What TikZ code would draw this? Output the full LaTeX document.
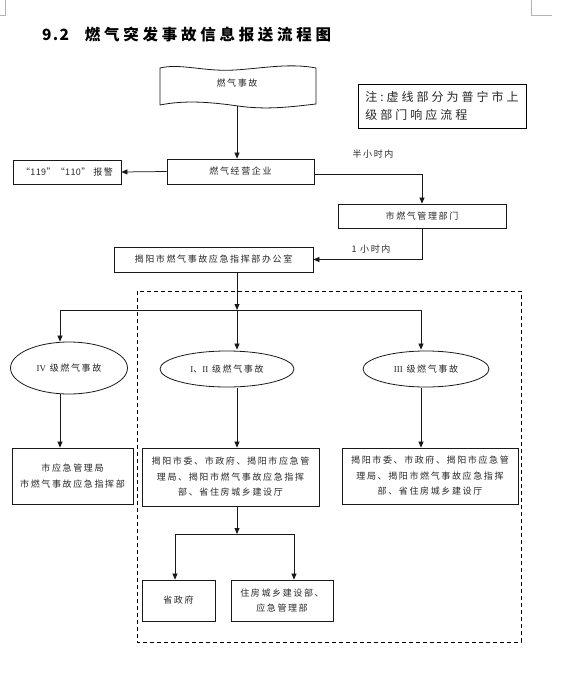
\documentclass[tikz,border=0pt]{standalone}
\usepackage{fontspec}
\usetikzlibrary{arrows.meta,shapes.geometric}
\newfontfamily\smf{Noto Sans CJK SC}[LetterSpace=18]
\newfontfamily\plainf{Noto Sans CJK SC}[LetterSpace=4]
\newfontfamily\ntf{Noto Sans CJK SC}[LetterSpace=25]
\newfontfamily\ttlf{Noto Sans CJK SC}[LetterSpace=24]
\newfontfamily\numf{Noto Sans CJK SC}[LetterSpace=8]
\newfontfamily\romf{Liberation Serif}
\tikzset{
  ln/.style={line width=0.75pt, draw=black!90},
  arr/.style={ln, -{Triangle[length=6pt,width=5pt]}},
  box/.style={draw=black!90, line width=0.8pt, rectangle, inner sep=0pt, align=center,
    font=\smf\fontsize{9}{15.5}\selectfont, text=black!85},
  oval/.style={draw=black!90, line width=0.8pt, ellipse, inner sep=0pt, align=center,
    font=\smf\fontsize{9}{12}\selectfont, text=black!85},
  lbl/.style={inner sep=0pt, font=\smf\fontsize{9}{12}\selectfont, text=black!85},
  cornermark/.style={draw=black!30, line width=0.6pt}
}
\begin{document}
\begin{tikzpicture}[x=1pt,y=-1pt]
\useasboundingbox (0,0) rectangle (576,682);
% page corner marks
\draw[cornermark] (0,15) -- (5,15) -- (5,0);
\draw[cornermark] (531,0) -- (531,15) -- (552,15);
% title
\node[anchor=west, inner sep=0pt, font=\fontsize{15.5}{15.5}\selectfont\bfseries] (title) at (42,35)
  {{\numf 9.2}\hspace{16pt}{\ttlf 燃气突发事故信息报送流程图}};
% note
\node[draw=black, line width=0.8pt, rectangle, inner sep=0pt, minimum width=168pt, minimum height=44pt,
  align=left, font=\ntf\fontsize{12}{18}\selectfont, text=black!85] (note) at (442,106)
  {注:虚线部分为普宁市上\\级部门响应流程};
% wave box
\draw[ln, line width=0.8pt] (160,68) .. controls (180,63) and (205,72) .. (235,70)
  .. controls (265,68) and (290,63) .. (316,68) -- (316,104)
  .. controls (290,107) and (266,110) .. (238,106)
  .. controls (210,102) and (185,100) .. (160,105) -- cycle;
\node[inner sep=0pt, minimum width=156pt, minimum height=46pt, font=\smf\fontsize{9}{12}\selectfont, text=black!85] (fire) at (237,83) {燃气事故};
% boxes
\node[box, minimum width=147pt, minimum height=25pt] (biz) at (240.5,171.5) {燃气经营企业};
\node[box, minimum width=108pt, minimum height=24pt] (alarm) at (67,172) {{\plainf “119”“110”}\hspace{3pt}报警};
\node[box, minimum width=168pt, minimum height=24pt] (city) at (422,216) {市燃气管理部门};
\node[box, minimum width=199pt, minimum height=25pt] (jy) at (213.5,259.5) {揭阳市燃气事故应急指挥部办公室};
\node[lbl] (half) at (373,154) {半小时内};
\node[lbl] (hour) at (371,249) {1 小时内};
% dashed region
\draw[line width=0.8pt, dash pattern=on 4pt off 3pt] (137,291) rectangle (521,642);
% ellipses
\node[oval, minimum width=117pt, minimum height=52pt] (e4) at (69,368) {{\romf IV} 级燃气事故};
\node[oval, minimum width=134pt, minimum height=36pt] (e12) at (227,369) {{\romf I}、{\romf II} 级燃气事故};
\node[oval, minimum width=126pt, minimum height=36pt] (e3) at (426,369) {{\romf III} 级燃气事故};
% level boxes
\node[box, minimum width=121pt, minimum height=56pt] (b4) at (72.5,476) {市应急管理局\\市燃气事故应急指挥部};
\node[box, minimum width=177pt, minimum height=58pt] (b12) at (230.5,477) {揭阳市委、市政府、揭阳市应急管\\理局、揭阳市燃气事故应急指挥\\部、省住房城乡建设厅};
\node[box, minimum width=176pt, minimum height=56pt] (b3) at (430,476) {揭阳市委、市政府、揭阳市应急管\\理局、揭阳市燃气事故应急指挥\\部、省住房城乡建设厅};
\node[box, minimum width=73pt, minimum height=41pt] (prov) at (178.5,600.5) {省政府};
\node[box, minimum width=102pt, minimum height=41pt] (mohurd) at (282,600.5) {住房城乡建设部、\\应急管理部};
% junction coordinates
\coordinate (j1) at (237,310);
\coordinate (jl) at (60,310);
\coordinate (jr) at (421,310);
\coordinate (j2) at (237,534);
\coordinate (j2l) at (175,534);
\coordinate (j2r) at (294,534);
% connectors
\draw[arr] (fire.south) -- (fire.south |- biz.north);
\draw[arr] (biz.west) -- (alarm.east);
\draw[arr] ([yshift=-2.5pt]biz.east) -| (city.north);
\draw[arr] (city.south) |- (jy.east);
\draw[arr] (jy.south -| j1) -- (j1);
\draw[ln] (jl) -- (jr);
\draw[arr] (jl) -- (jl |- e4.north);
\draw[arr] (j1) -- ([yshift=1pt]j1 |- e12.north);
\draw[arr] (jr) -- ([yshift=1pt]jr |- e3.north);
\draw[arr] (jl |- e4.south) -- (jl |- b4.north);
\draw[arr] ([yshift=-0.5pt]j1 |- e12.south) -- (j1 |- b12.north);
\draw[arr] ([yshift=-0.5pt]jr |- e3.south) -- (jr |- b3.north);
\draw[arr] (j2 |- b12.south) -- (j2);
\draw[ln] (j2l) -- (j2r);
\draw[arr] (j2l) -- (j2l |- prov.north);
\draw[arr] (j2r) -- (j2r |- mohurd.north);
\end{tikzpicture}
\end{document}
